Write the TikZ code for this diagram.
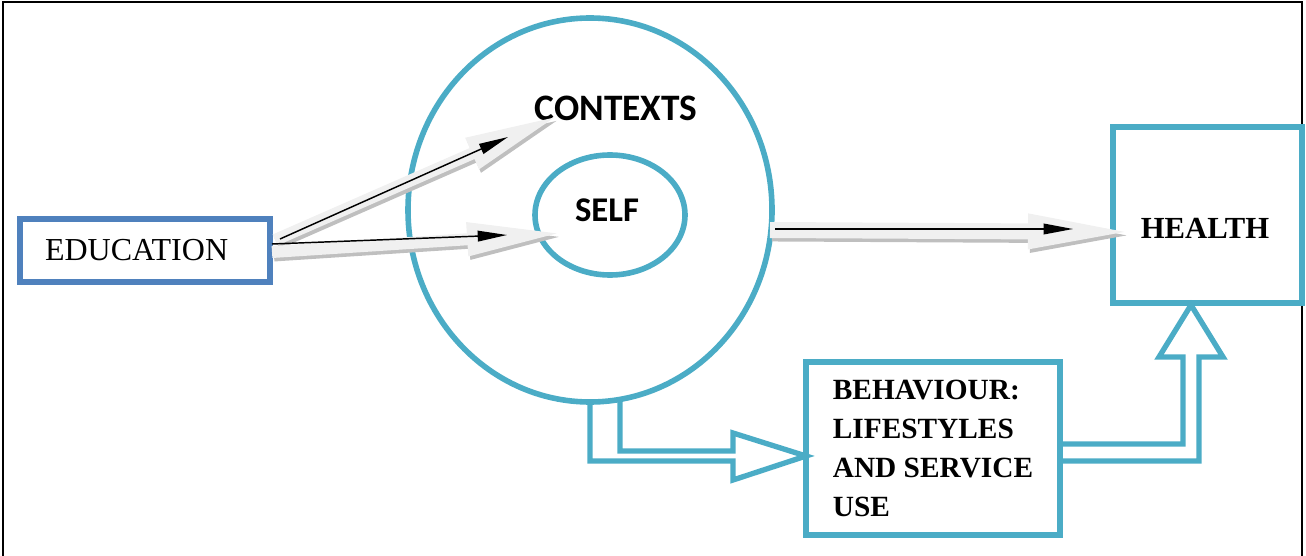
\documentclass[tikz,border=0pt]{standalone}
\usepackage{fontspec}
\setmainfont{Liberation Serif}
\newfontfamily\calib{Carlito}
\usetikzlibrary{arrows.meta,shapes.geometric}
\definecolor{teal1}{HTML}{4BACC6}
\definecolor{blue1}{HTML}{4F81BD}

\begin{document}
\begin{tikzpicture}[x=0.75pt, y=-0.75pt,
        every node/.style = {inner sep=0pt},
        ring/.style = {draw=teal1, line width=4.2pt, ellipse},
        tealbox/.style = {draw=teal1, line width=4.2pt, rectangle},
        hollow/.style = {draw=teal1, line width=4pt, line join=miter},
        pale/.style = {draw=black!6, line width=9pt, -{Triangle[length=72pt,width=23pt]}},
        paleshadow/.style = {pale, draw=black!25, transform canvas={shift={(1.5pt,-2.6pt)}}},
        blackarrow/.style = {draw=black, line width=1.1pt, -{Triangle[length=22pt,width=8pt]}}
    ]
    \useasboundingbox (0,0) rectangle (1306,556);
    \draw[line width=1.1pt] (3,2) rectangle (1302,580);

    % nodes
    \node[draw=blue1, line width=4.2pt, minimum height=47.25pt, inner xsep=18.75pt,
        text width=150pt, align=left, font=\fontsize{24}{26}\selectfont] (edu) at (145,250.5) {EDUCATION};
    \node[ring, minimum width=273pt, minimum height=288pt] (ctx) at (590,210) {};
    \node[ring, minimum width=112.5pt, minimum height=90pt] (self) at (610,215) {};
    \node[font={\calib\bfseries\fontsize{28}{30}\selectfont}] (ctxlabel) at (616,108) {CONTEXTS};
    \node[font={\calib\bfseries\fontsize{26}{28}\selectfont}] (selflabel) at (607,210) {SELF};
    \node[tealbox, minimum width=141.75pt, minimum height=132pt] (health) at (1207.5,215) {};
    \node[font={\bfseries\fontsize{23}{26}\selectfont}] (healthlabel) at (1205,228) {HEALTH};
    \node[tealbox, minimum width=190.5pt, minimum height=129.75pt, align=left,
        font={\bfseries\fontsize{22}{29.25}\selectfont}] (behav) at (933,448.5)
        {BEHAVIOUR:\\LIFESTYLES\\AND SERVICE\\USE};

    % grey arrows
    \coordinate (a1s) at (275,240);
    \coordinate (a1t) at (560,115);
    \coordinate (b1s) at (280,239);
    \coordinate (b1t) at (508,137);
    \coordinate (a2s) at (272,252);
    \coordinate (a2t) at (563,233);
    \coordinate (b2s) at (272,244);
    \coordinate (b2t) at (507,235);
    \coordinate (a3s) at (770,230);
    \coordinate (a3t) at (1140,232);
    \coordinate (b3s) at (775,229);
    \coordinate (b3t) at (1073,229);
    \draw[paleshadow] (a1s) -- (a1t);
    \draw[paleshadow] (a2s) -- (a2t);
    \draw[paleshadow, line width=12pt, -{Triangle[length=84pt,width=23pt]}] (a3s) -- (a3t);
    \draw[pale] (a1s) -- (a1t);
    \draw[pale] (a2s) -- (a2t);
    \draw[pale, line width=12pt, -{Triangle[length=84pt,width=23pt]}] (a3s) -- (a3t);
    \draw[blackarrow] (b1s) -- (b1t);
    \draw[blackarrow] (b2s) -- (b2t);
    \draw[blackarrow] (b3s) -- (b3t);

    % block arrows
    \draw[hollow] (620,399) -- (620,451) -- (733,451) -- (733,433) -- (806,456)
        -- (733,480) -- (733,461) -- (590,461) -- (590,402);
    \draw[hollow] (1060,444) -- (1183,444) -- (1183,357) -- (1159,357) -- (1191,305)
        -- (1223,357) -- (1199,357) -- (1199,461) -- (1060,461);
\end{tikzpicture}
\end{document}
